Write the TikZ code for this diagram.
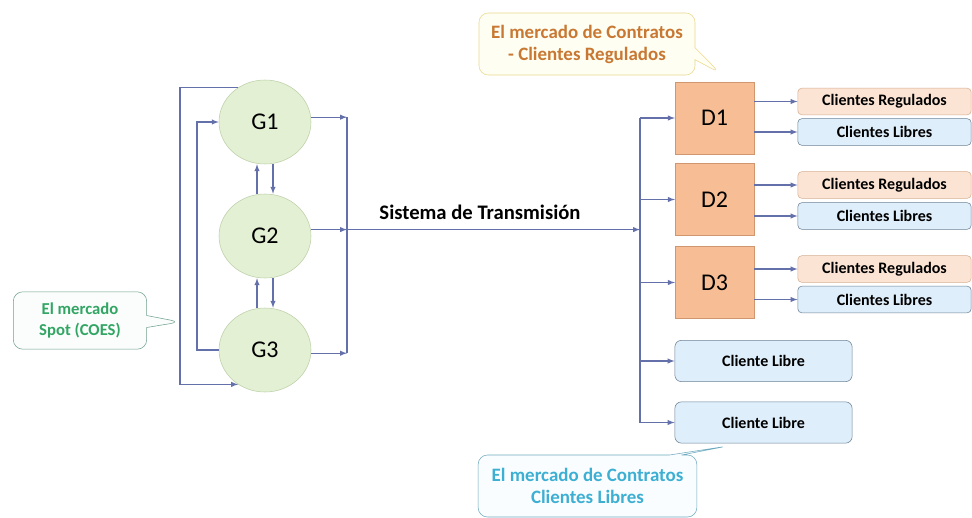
\documentclass[tikz,border=0pt]{standalone}
\usepackage{fontspec}
\setmainfont{Carlito}
\usepackage{tikz}
\usetikzlibrary{arrows,shapes.geometric,shapes.callouts}

\definecolor{flowblue}{RGB}{100,112,170}
\definecolor{genfill}{RGB}{228,240,212}
\definecolor{genline}{RGB}{188,208,168}
\definecolor{distfill}{RGB}{247,190,150}
\definecolor{distline}{RGB}{208,150,112}
\definecolor{regfill}{RGB}{252,228,212}
\definecolor{regline}{RGB}{215,175,145}
\definecolor{libfill}{RGB}{222,238,250}
\definecolor{libline}{RGB}{110,130,150}
\definecolor{noteregtext}{RGB}{200,120,50}
\definecolor{noteregfill}{RGB}{255,254,242}
\definecolor{noteregline}{RGB}{235,215,140}
\definecolor{notespottext}{RGB}{50,165,100}
\definecolor{notespotfill}{RGB}{250,253,251}
\definecolor{notespotline}{RGB}{110,160,140}
\definecolor{notelibtext}{RGB}{60,175,210}
\definecolor{notelibfill}{RGB}{250,253,255}
\definecolor{notelibline}{RGB}{110,170,190}

\tikzset{
  genr/.style={ellipse,draw=genline,fill=genfill,minimum width=69pt,minimum height=63pt,
    inner sep=0pt,font=\fontsize{18}{21}\selectfont},
  distr/.style={rectangle,draw=distline,fill=distfill,minimum width=59pt,minimum height=54pt,
    inner sep=0pt,font=\fontsize{18}{21}\selectfont},
  cregul/.style={rectangle,rounded corners=3pt,draw=regline,fill=regfill,minimum width=130pt,
    minimum height=20pt,inner sep=0pt,font=\bfseries\fontsize{12}{14}\selectfont},
  clibre/.style={cregul,draw=libline,fill=libfill},
  clibrebig/.style={clibre,rounded corners=5pt,minimum width=133pt,minimum height=31pt},
  callnote/.style={rectangle callout,rounded corners=7pt,callout pointer width=9pt,align=center,
    inner sep=0pt,font=\bfseries\fontsize{14.2}{16.5}\selectfont},
  flow/.style={->,>=latex,draw=flowblue,line width=0.8pt},
  bus/.style={draw=flowblue,line width=0.8pt}
}

\begin{document}
\begin{tikzpicture}[x=0.75pt,y=-0.75pt]
\fill[white] (0,0) rectangle (972,518);
\useasboundingbox (0,0) rectangle (972,518);

\node[genr] (G1) at (265,122) {G1};
\node[genr] (G2) at (265,236) {G2};
\node[genr] (G3) at (265,350) {G3};

\node[distr] (D1) at (714.5,118) {D1};
\node[distr] (D2) at (714.5,199.5) {D2};
\node[distr] (D3) at (714.5,282.5) {D3};

\node[cregul] (R1) at (884.5,101.5) {Clientes Regulados};
\node[clibre] (L1) at (884.5,132) {Clientes Libres};
\node[cregul] (R2) at (884.5,185) {Clientes Regulados};
\node[clibre] (L2) at (884.5,216) {Clientes Libres};
\node[cregul] (R3) at (884.5,269) {Clientes Regulados};
\node[clibre] (L3) at (884.5,299.5) {Clientes Libres};

\node[clibrebig] (CL1) at (763.5,361) {Cliente Libre};
\node[clibrebig] (CL2) at (763.5,422.5) {Cliente Libre};

\node[font=\bfseries\fontsize{15.5}{18}\selectfont] (trans) at (480,212) {Sistema de Transmisión};

\coordinate (oloop) at (180,240);
\coordinate (iloop) at (197,240);
\coordinate (gbus) at (347,240);
\coordinate (dbus) at (640,240);

\draw[flow] (G1.128) -| (oloop) |- (G3.232);
\draw[flow] (G3.west) -| (iloop) |- (G1.west);

\draw[flow] ([xshift=-6pt]G2.north) -- ([xshift=-6pt]G1.south);
\draw[flow] ([xshift=6pt]G1.south)  -- ([xshift=6pt]G2.north);
\draw[flow] ([xshift=-6pt]G3.north) -- ([xshift=-6pt]G2.south);
\draw[flow] ([xshift=6pt]G2.south)  -- ([xshift=6pt]G3.north);

\draw[flow] (G1.6)  -- (G1.6 -| gbus);
\draw[flow] (G2.8)  -- (G2.8 -| gbus);
\draw[flow] (G3.-4) -- (G3.-4 -| gbus);
\draw[bus]  (G1.6 -| gbus) -- (G3.-4 -| gbus);
\draw[flow] (G2.8 -| gbus) -- (G2.8 -| dbus);

\draw[bus]  (D1.west -| dbus) -- (CL2.west -| dbus);
\draw[flow] (D1.west -| dbus)  -- (D1.west);
\draw[flow] (D2.west -| dbus)  -- (D2.west);
\draw[flow] (D3.west -| dbus)  -- (D3.west);
\draw[flow] (CL1.west -| dbus) -- (CL1.west);
\draw[flow] (CL2.west -| dbus) -- (CL2.west);

\draw[flow] (R1.west -| D1.east) -- (R1.west);
\draw[flow] (L1.west -| D1.east) -- (L1.west);
\draw[flow] (R2.west -| D2.east) -- (R2.west);
\draw[flow] (L2.west -| D2.east) -- (L2.west);
\draw[flow] (R3.west -| D3.east) -- (R3.west);
\draw[flow] (L3.west -| D3.east) -- (L3.west);

\coordinate (preg) at (720,73);
\coordinate (pspot) at (180,322);
\coordinate (plib) at (728,446);

\node[callnote,draw=noteregline,fill=noteregfill,text=noteregtext,minimum width=162pt,
  minimum height=46.5pt,callout absolute pointer={(preg)}] (mreg) at (587,44)
  {El mercado de Contratos\\- Clientes Regulados};
\node[callnote,draw=notespotline,fill=notespotfill,text=notespottext,minimum width=100pt,
  minimum height=43pt,font=\bfseries\fontsize{12.5}{15.8}\selectfont,
  callout absolute pointer={(pspot)}] (mspot) at (80,320.5)
  {El mercado\\Spot (COES)};
\node[callnote,draw=notelibline,fill=notelibfill,text=notelibtext,minimum width=164pt,
  minimum height=46.5pt,callout absolute pointer={(plib)}] (mlib) at (587.5,486)
  {El mercado de Contratos\\Clientes Libres};
\end{tikzpicture}
\end{document}
